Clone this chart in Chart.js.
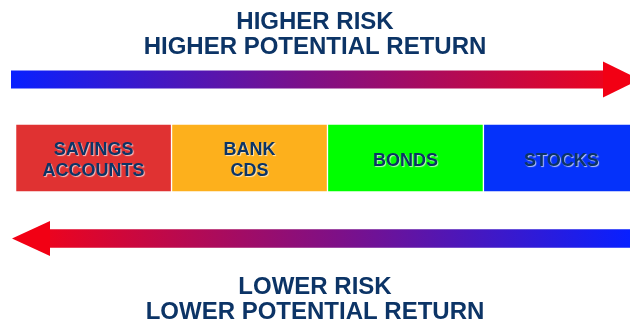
<!DOCTYPE html>
<html>
<head>
<meta charset="utf-8">
<script src="https://cdn.jsdelivr.net/npm/chart.js@4/dist/chart.umd.min.js"></script>
<style>
  html, body { margin: 0; padding: 0; background: #ffffff; }
  #wrap { width: 630px; height: 327px; }
</style>
</head>
<body>
<div id="wrap"><canvas id="risk" width="630" height="327"></canvas></div>
<script>
// Investment types, ordered from lowest to highest risk
const categories = [['SAVINGS', 'ACCOUNTS'], ['BANK', 'CDS'], ['BONDS'], ['STOCKS']];
// Each investment type gets an equal share of the risk scale
const segmentValues = [1, 1, 1, 1];
const segmentColors = ['#e03232', '#fdb01c', '#00ff00', '#0532fa'];
const topTitle = ['HIGHER RISK', 'HIGHER POTENTIAL RETURN'];
const bottomTitle = ['LOWER RISK', 'LOWER POTENTIAL RETURN'];

const NAVY = '#0c3466';
const FONT = '"Liberation Sans", Arial, sans-serif';

// Writes the investment name in the middle of each segment
const segmentLabels = {
  id: 'segmentLabels',
  afterDatasetsDraw(chart) {
    const ctx = chart.ctx;
    ctx.save();
    ctx.font = 'bold 18px ' + FONT;
    ctx.textAlign = 'center';
    ctx.textBaseline = 'middle';
    ctx.fillStyle = NAVY;
    ctx.shadowColor = 'rgba(255,255,255,0.7)';
    ctx.shadowOffsetX = 1;
    ctx.shadowOffsetY = 1;
    ctx.shadowBlur = 1;
    chart.data.datasets.forEach((ds, i) => {
      const el = chart.getDatasetMeta(i).data[0];
      if (!el) return;
      const { x, y } = el.getCenterPoint();
      const lines = categories[i];
      const lh = 21;
      lines.forEach((t, j) => {
        ctx.fillText(t, x, y + 3 + (j - (lines.length - 1) / 2) * lh);
      });
    });
    ctx.restore();
  }
};

// Gradient arrows above and below the scale
function drawArrow(ctx, a) {
  const half = a.shaft / 2;
  const g = ctx.createLinearGradient(a.from, 0, a.base, 0);
  g.addColorStop(0, a.startColor);
  g.addColorStop(0.5, '#7d1088');
  g.addColorStop(1, a.endColor);
  ctx.fillStyle = g;
  ctx.fillRect(Math.min(a.from, a.base), a.cy - half, Math.abs(a.base - a.from), a.shaft);
  ctx.fillStyle = '#f20014';
  ctx.beginPath();
  ctx.moveTo(a.base, a.cy - a.head / 2);
  ctx.lineTo(a.tip, a.cy);
  ctx.lineTo(a.base, a.cy + a.head / 2);
  ctx.closePath();
  ctx.fill();
}

const riskArrows = {
  id: 'riskArrows',
  afterDraw(chart) {
    const ctx = chart.ctx;
    ctx.save();
    drawArrow(ctx, { from: 11, base: 603, tip: 640, cy: 79.5, shaft: 18, head: 36,
                     startColor: '#0820ff', endColor: '#ea0420' });
    drawArrow(ctx, { from: 630, base: 50, tip: 12, cy: 238.5, shaft: 18.5, head: 35,
                     startColor: '#0820ff', endColor: '#ea0420' });
    ctx.restore();
  }
};

new Chart(document.getElementById('risk'), {
  type: 'bar',
  data: {
    labels: ['risk'],
    datasets: categories.map((c, i) => ({
      label: c.join(' '),
      data: [segmentValues[i]],
      backgroundColor: segmentColors[i],
      borderColor: 'rgba(255,255,255,0.55)',
      borderWidth: 1,
      borderSkipped: false,
      categoryPercentage: 1,
      barPercentage: 1
    }))
  },
  options: {
    indexAxis: 'y',
    responsive: false,
    animation: false,
    events: [],
    layout: { padding: 0 },
    scales: {
      x: { stacked: true, display: false, min: -0.1, max: 3.94 },
      y: { stacked: true, display: false }
    },
    plugins: {
      legend: { display: false },
      tooltip: { enabled: false },
      title: {
        display: true,
        text: topTitle,
        color: NAVY,
        font: { family: FONT, size: 24, weight: 'bold', lineHeight: 1.05 },
        padding: { top: 9.6, bottom: 64 }
      },
      subtitle: {
        display: true,
        position: 'bottom',
        text: bottomTitle,
        color: NAVY,
        font: { family: FONT, size: 24, weight: 'bold', lineHeight: 1.05 },
        padding: { top: 82.4, bottom: 2.2 }
      }
    }
  },
  plugins: [segmentLabels, riskArrows]
});
</script>
</body>
</html>
